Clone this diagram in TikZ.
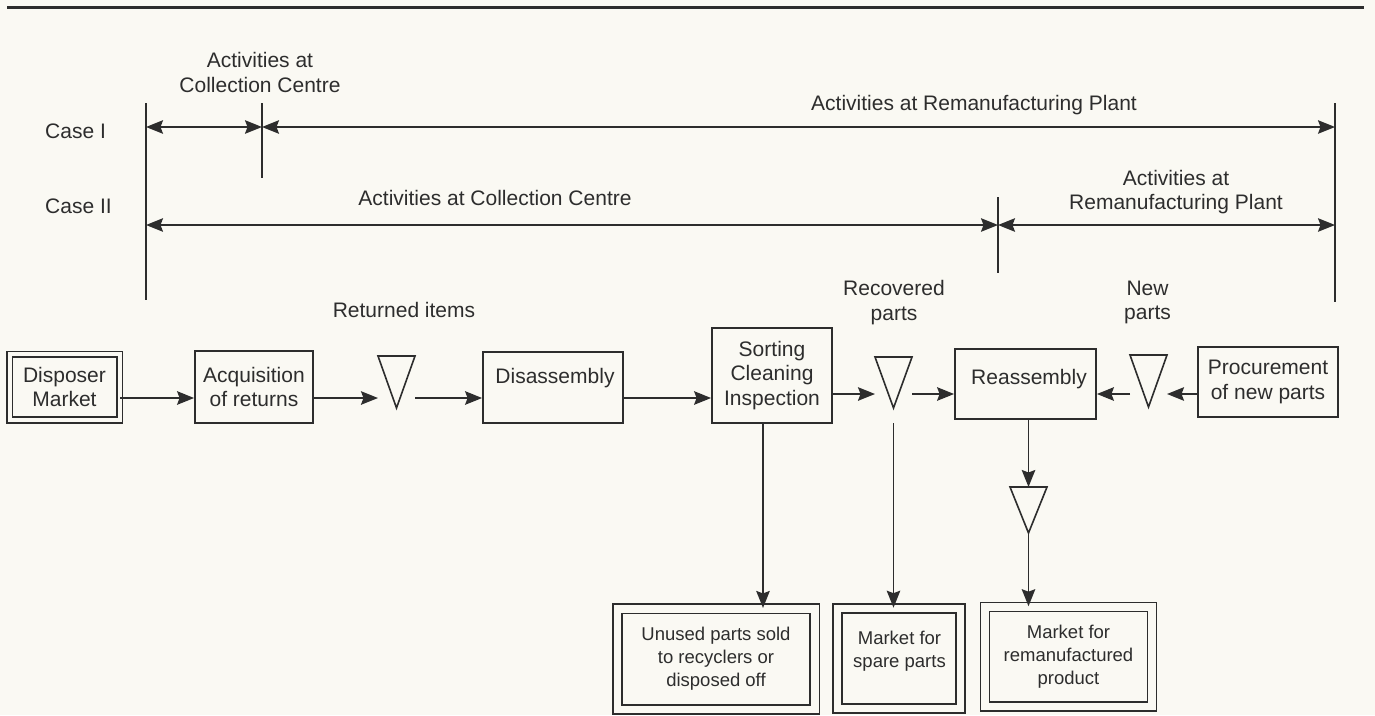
\documentclass[tikz,border=0pt]{standalone}
\usepackage{fontspec}
\setmainfont{Liberation Sans}
\usetikzlibrary{arrows.meta}
\definecolor{paper}{RGB}{250,249,243}
\definecolor{ink}{RGB}{45,45,45}
\begin{document}
\begin{tikzpicture}[x=1pt,y=-1pt,
  every node/.style={text=ink},
  big/.style={font=\fontsize{21}{24.5}\selectfont},
  small/.style={font=\fontsize{18.5}{23}\selectfont},
  lbl/.style={big, align=center, inner sep=0pt},
  flowbox/.style={draw=ink, line width=1.8pt, big, align=center, inner sep=0pt},
  market/.style={draw=ink, line width=1.6pt, double=paper, double distance=#1, inner sep=0pt,
                 small, align=center},
  tri/.style={inner sep=0pt, outer sep=0pt},
  trishape/.style={draw=ink, line width=1.6pt, line join=miter},
  tip/.tip={Stealth[length=17pt,width=13.5pt,inset=2.5pt]},
  arr/.style={draw=ink, line width=1.8pt, -tip},
  dim/.style={draw=ink, line width=1.6pt, tip-tip},
  rule/.style={draw=ink, line width=1.6pt},
]
% page
\fill[paper] (0,0) rectangle (1375,715);
\useasboundingbox (0,0) rectangle (1375,715);
\coordinate (ruleL) at (7,7);
\coordinate (ruleR) at (1364,7);
\draw[ink, line width=3pt] (ruleL) -- (ruleR);

% extent markers for the two cases
\coordinate (Ltop) at (146,103);  \coordinate (Lbot) at (146,300);
\coordinate (Rtop) at (1335,103); \coordinate (Rbot) at (1335,302);
\coordinate (Itop) at (262,103);  \coordinate (Ibot) at (262,178);
\coordinate (IItop) at (998,197); \coordinate (IIbot) at (998,273);
\coordinate (yI) at (0,127);
\coordinate (yII) at (0,225);
\draw[rule] (Ltop) -- (Lbot);
\draw[rule] (Rtop) -- (Rbot);
\draw[rule] (Itop) -- (Ibot);
\draw[rule] (IItop) -- (IIbot);
\draw[dim] (Ltop |- yI) -- (Itop |- yI);
\draw[dim] (Itop |- yI) -- (Rtop |- yI);
\draw[dim] (Ltop |- yII) -- (IItop |- yII);
\draw[dim] (IItop |- yII) -- (Rtop |- yII);

\node[lbl, anchor=base west] (case1) at (45,138) {Case I};
\node[lbl, anchor=base west] (case2) at (45,213) {Case II};
\node[lbl] (collI) at (260,72.5) {Activities at\\Collection Centre};
\node[lbl, anchor=base] (remI) at (974,110) {Activities at Remanufacturing Plant};
\node[lbl, anchor=base] (collII) at (495,205) {Activities at Collection Centre};
\node[lbl] (remII) at (1176,192) {Activities at\\Remanufacturing Plant};

% flow labels
\node[lbl, anchor=base] (retlbl) at (404,317) {Returned items};
\node[lbl] (reclbl) at (894,302.5) {Recovered\\parts};
\node[lbl] (newlbl) at (1147.5,302.5) {New\\parts};

% process chain
\node[market=4pt, big, minimum width=110pt, minimum height=65.5pt] (dm) at (64.5,387.2) {Disposer\\Market};
\node[flowbox, minimum width=118pt, minimum height=72pt] (acq) at (254,387) {Acquisition\\of returns};
\node[tri, minimum width=37pt, minimum height=52pt] (t1) at (396.5,382) {};
\node[flowbox, minimum width=140pt, minimum height=71pt] (dis) at (553,387.5) {};
\node[lbl] (distxt) at (555,378) {Disassembly};
\node[flowbox, minimum width=120pt, minimum height=95pt] (sort) at (772,375.5) {Sorting\\Cleaning\\Inspection};
\node[tri, minimum width=37pt, minimum height=51pt] (t2) at (893.5,382.5) {};
\node[flowbox, minimum width=141pt, minimum height=70pt] (reas) at (1025.5,384) {};
\node[lbl] (reastxt) at (1029,379) {Reassembly};
\node[tri, minimum width=37pt, minimum height=52pt] (t3) at (1148.5,381) {};
\node[flowbox, minimum width=140pt, minimum height=70pt] (proc) at (1268,382) {Procurement\\of new parts};
\node[tri, minimum width=37pt, minimum height=46pt] (t4) at (1028.5,510) {};

% stock triangles
\foreach \t in {t1,t2,t3,t4}
  \draw[trishape] (\t.north west) -- (\t.north east) -- (\t.south) -- cycle;

% outlets
\node[market=7.5pt, minimum width=197.5pt, minimum height=100.5pt] (unused) at (716,659) {Unused parts sold\\to recyclers or\\disposed off};
\node[market=7.5pt, minimum width=123pt, minimum height=100pt] (spare) at (899,658.5) {};
\node[lbl, small] (sparetxt) at (899.5,651) {Market for\\spare parts};
\node[market=7.5pt, minimum width=167pt, minimum height=99.5pt] (reman) at (1068.5,656.75) {Market for\\remanufactured\\product};

% connectors
\coordinate (fl) at (0,398);
\coordinate (fr) at (0,394);
\coordinate (xs) at (763,0);
\draw[arr] (dm.east |- fl) -- (acq.west |- fl);
\draw[arr] (acq.east |- fl) -- (t1.west |- fl);
\draw[arr] (t1.east |- fl) -- (dis.west |- fl);
\draw[arr] (dis.east |- fl) -- (sort.west |- fl);
\draw[arr] (sort.east |- fr) -- (t2.west |- fr);
\draw[arr] (t2.east |- fr) -- (reas.west |- fr);
\draw[arr] (t3.west |- fr) -- (reas.east |- fr);
\draw[arr] (proc.west |- fr) -- (t3.east |- fr);
\draw[arr] (sort.south -| xs) -- (unused.north -| xs);
\draw[arr] ([yshift=-15pt]t2.south) -- (spare.north -| t2.south);
\draw[arr] (reas.south -| t4.north) -- (t4.north);
\draw[arr] (t4.south) -- (reman.north -| t4.south);
\end{tikzpicture}
\end{document}
